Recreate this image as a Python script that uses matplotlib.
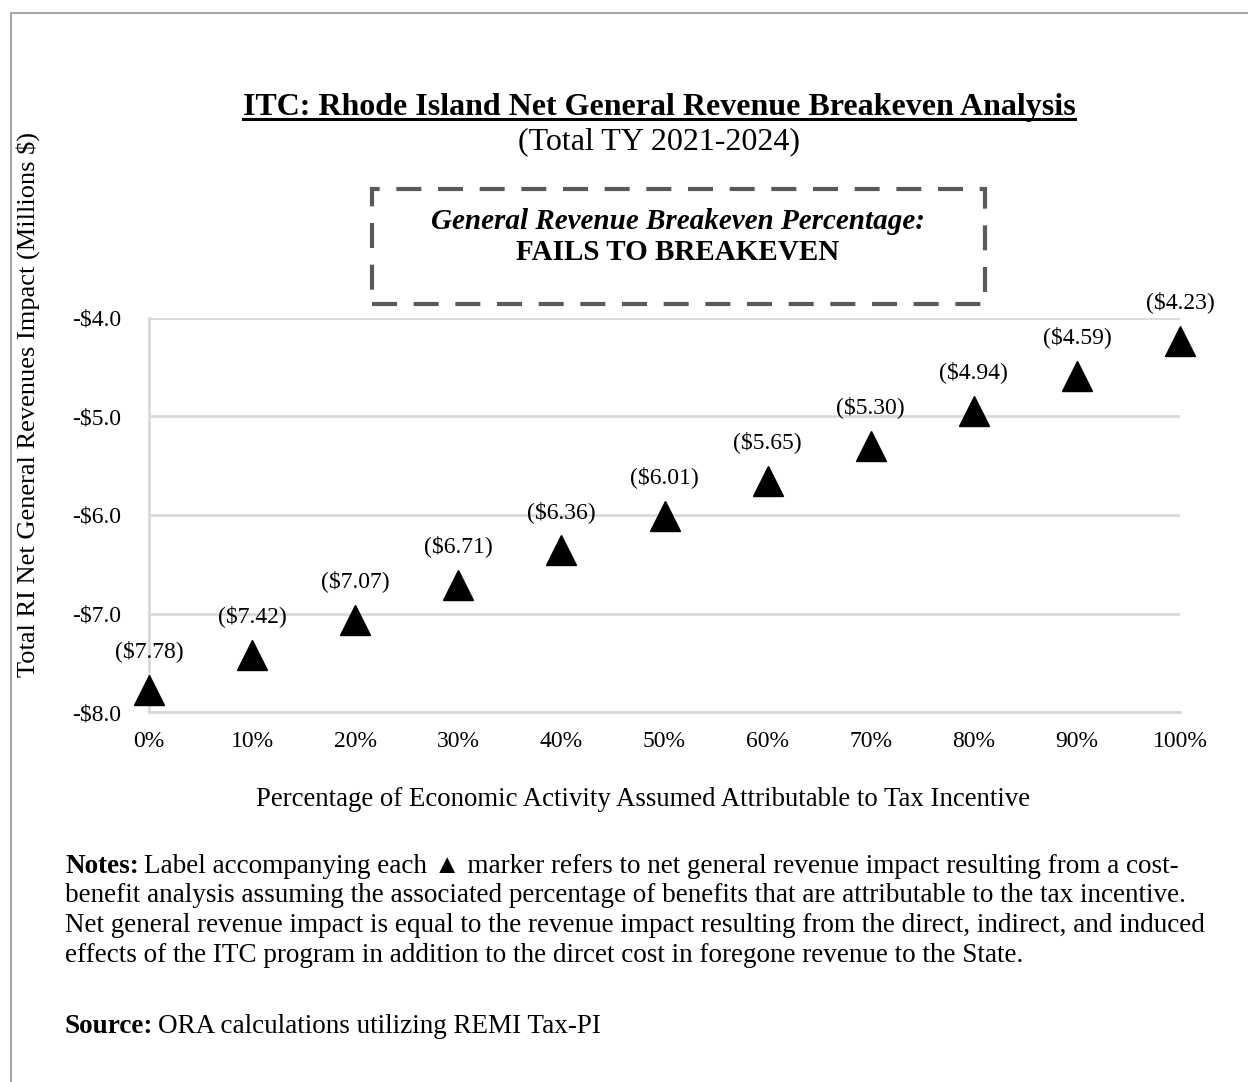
import matplotlib
matplotlib.use("Agg")
import matplotlib.pyplot as plt
from matplotlib.patches import Rectangle

plt.rcParams['font.family'] = ['Liberation Serif', 'DejaVu Serif']

# Share of economic activity credited to the incentive, and the net revenue impact
pct_attributable = [0.0, 0.1, 0.2, 0.3, 0.4, 0.5, 0.6, 0.7, 0.8, 0.9, 1.0]
net_impact = [-7.78, -7.42, -7.07, -6.71, -6.36, -6.01, -5.65, -5.30, -4.94, -4.59, -4.23]
y_ticks = [-8.0, -7.0, -6.0, -5.0, -4.0]
x_ticks = [0.0, 0.1, 0.2, 0.3, 0.4, 0.5, 0.6, 0.7, 0.8, 0.9, 1.0]

W, H = 1248, 1082
fig = plt.figure(figsize=(W / 100, H / 100), dpi=100)


def fx(px):
    return px / W


def fy(py):
    return 1 - py / H


# outer frame of the exhibit (runs off the right and bottom edges)
fig.patches.append(Rectangle((fx(11), fy(1100)), fx(1300) - fx(11), fy(13) - fy(1100),
                             transform=fig.transFigure, fill=False, edgecolor='#a6a6a6', linewidth=1.5))

ax = fig.add_axes([fx(149), fy(712), fx(1180) - fx(149), fy(318) - fy(712)])
ax.set_xlim(0, 1)
ax.set_ylim(-8, -4)

ax.plot(pct_attributable, net_impact, linestyle='none', marker='^', markersize=21,
        color='black', clip_on=False, zorder=3)

for x, v in zip(pct_attributable, net_impact):
    ax.annotate(f"(${abs(v):.2f})", (x, v), xytext=(0, 28), textcoords='offset points',
                ha='center', va='center', fontsize=17, color='black', annotation_clip=False)

ax.set_yticks(y_ticks)
ax.set_yticklabels([f"-${abs(t):.1f}" for t in y_ticks])
ax.set_xticks(x_ticks)
ax.set_xticklabels([f"{t:.0%}" for t in x_ticks])
ax.tick_params(axis='both', length=0, labelsize=17, colors='black')
ax.tick_params(axis='y', pad=20)
ax.tick_params(axis='x', pad=14)
ax.grid(axis='y', color='#d9d9d9', linewidth=2)
ax.set_axisbelow(True)
for side in ['top', 'right']:
    ax.spines[side].set_visible(False)
for side in ['left', 'bottom']:
    ax.spines[side].set_color('#d9d9d9')
    ax.spines[side].set_linewidth(2)

# titles
title = fig.text(fx(659), fy(115), "ITC: Rhode Island Net General Revenue Breakeven Analysis",
                 ha='center', va='baseline', fontsize=23, fontweight='bold')
fig.text(fx(659), fy(149), "(Total TY 2021-2024)", ha='center', va='baseline', fontsize=23)

fig.canvas.draw()
renderer = fig.canvas.get_renderer()
bb = title.get_window_extent(renderer)
fig.add_artist(plt.Line2D([bb.x0 / W, bb.x1 / W], [fy(119), fy(119)], transform=fig.transFigure,
                          color='black', linewidth=2.2))

# breakeven call-out box
fig.patches.append(Rectangle((fx(372), fy(304)), fx(985) - fx(372), fy(189) - fy(304),
                             transform=fig.transFigure, fill=False, edgecolor='#595959',
                             linewidth=3, linestyle=(0, (6, 4))))
fig.text(fx(678), fy(222), "General Revenue Breakeven Percentage:", ha='center', va='center',
         fontsize=21, fontweight='bold', fontstyle='italic')
fig.text(fx(678), fy(253), "FAILS TO BREAKEVEN", ha='center', va='center',
         fontsize=21, fontweight='bold')

# axis titles
fig.text(fx(28), fy(404), "Total RI Net General Revenues Impact (Millions $)", rotation=90,
         ha='center', va='center', fontsize=19)
fig.text(fx(643), fy(800), "Percentage of Economic Activity Assumed Attributable to Tax Incentive",
         ha='center', va='center', fontsize=19.3)

# notes and source
notes_lines = [
    "benefit analysis assuming the associated percentage of benefits that are attributable to the tax incentive.",
    "Net general revenue impact is equal to the revenue impact resulting from the direct, indirect, and induced",
    "effects of the ITC program in addition to the dircet cost in foregone revenue to the State.",
]
note_size = 19.5
lead = fig.text(fx(65), fy(873), "Notes:", ha='left', va='baseline', fontsize=note_size, fontweight='bold')
fig.canvas.draw()
lb = lead.get_window_extent(renderer)
fig.text(lb.x1 / W + fx(5), fy(873),
         "Label accompanying each \u25b2 marker refers to net general revenue impact resulting from a cost-",
         ha='left', va='baseline', fontsize=note_size, family=['Liberation Serif', 'DejaVu Sans'])
for i, line in enumerate(notes_lines):
    fig.text(fx(65), fy(902.5 + 29.5 * i), line, ha='left', va='baseline', fontsize=note_size)

src = fig.text(fx(65), fy(1033), "Source:", ha='left', va='baseline', fontsize=note_size, fontweight='bold')
fig.canvas.draw()
sb = src.get_window_extent(renderer)
fig.text(sb.x1 / W + fx(5), fy(1033), "ORA calculations utilizing REMI Tax-PI",
         ha='left', va='baseline', fontsize=note_size)

fig.savefig("out.png", dpi=100)
